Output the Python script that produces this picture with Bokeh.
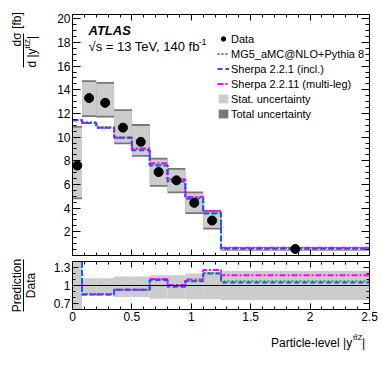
import math
from bokeh.plotting import figure
from bokeh.layouts import column, row
from bokeh.models import (Range1d, FixedTicker, LinearAxis, Label, Span,
                          Legend, LegendItem, CustomJSTickFormatter)
from bokeh.core.properties import value
from bokeh.embed import file_html
from bokeh.resources import INLINE

# ---------------- data ----------------
edges = [0.0, 0.08, 0.2, 0.35, 0.5, 0.65, 0.8, 0.95, 1.1, 1.25, 2.5]
data = [7.6, 13.3, 12.9, 10.8, 9.6, 7.05, 6.35, 4.45, 2.95, 0.55]
stat_lo = [4.9, 11.85, 11.8, 9.55, 8.5, 5.95, 5.4, 3.65, 2.35, 0.45]
stat_hi = [10.8, 14.65, 14.5, 12.2, 10.95, 8.1, 7.25, 5.25, 3.7, 0.66]
tot_lo = [4.75, 11.7, 11.65, 9.4, 8.35, 5.8, 5.25, 3.5, 2.2, 0.4]
tot_hi = [10.95, 14.8, 14.65, 12.35, 11.1, 8.25, 7.4, 5.4, 3.85, 0.71]
mg5 = [11.45, 11.25, 10.85, 10.0, 8.95, 7.65, 6.3, 4.85, 3.6, 0.6]
sh221 = [11.4, 11.2, 10.8, 9.95, 8.9, 7.6, 6.25, 4.8, 3.55, 0.58]
sh2211 = [11.45, 11.2, 10.8, 9.95, 9.05, 7.8, 6.45, 4.95, 3.75, 0.65]

r_mg5 = [1.5, 0.86, 0.86, 0.93, 0.93, 1.10, 0.99, 1.08, 1.21, 1.07]
r_sh221 = [1.5, 0.85, 0.85, 0.93, 0.93, 1.09, 0.98, 1.07, 1.20, 1.05]
r_sh2211 = [1.5, 0.85, 0.85, 0.93, 0.93, 1.11, 1.01, 1.10, 1.26, 1.17]
r_band_lo = [0.5, 0.85, 0.85, 0.81, 0.81, 0.78, 0.78, 0.77, 0.77, 0.76]
r_band_hi = [1.5, 1.12, 1.12, 1.15, 1.15, 1.17, 1.17, 1.20, 1.22, 1.24]

main_yticks = [2, 4, 6, 8, 10, 12, 14, 16, 18, 20]
ratio_yticks = [0.7, 1.0, 1.3]
xticks = [0, 0.5, 1, 1.5, 2, 2.5]

FONT = "Liberation Sans"
C_MG5, C_S221, C_S2211 = "#33aa33", "#2255ee", "#ff00ff"
C_STAT, C_TOT = "#cccccc", "#777777"

lefts = edges[:-1]
rights = edges[1:]
centers = [(a + b) / 2 for a, b in zip(lefts, rights)]


def stepy(v):
    return list(v) + [v[-1]]


fmt = CustomJSTickFormatter(code="return String(Math.round(tick*10)/10)")
blank = CustomJSTickFormatter(code="return ''")


def style_axis(ax, ticker, major_in, minor_in, labels):
    ax.ticker = ticker
    ax.major_tick_in = major_in
    ax.major_tick_out = 0
    ax.minor_tick_in = minor_in
    ax.minor_tick_out = 0
    ax.axis_line_color = "black"
    ax.major_tick_line_color = "black"
    ax.minor_tick_line_color = "black"
    ax.axis_label = None
    if labels:
        ax.major_label_text_font = FONT
        ax.major_label_text_font_size = "12px"
        ax.major_label_text_color = "black"
        ax.major_label_standoff = 2
        ax.formatter = fmt
    else:
        ax.formatter = blank
        ax.major_label_text_font_size = "0px"
        ax.major_label_standoff = 0


def xtick():
    return FixedTicker(ticks=xticks, minor_ticks=[i * 0.1 for i in range(26)])


def setup(p, yt_main, yt_minor, ymaj, ymin, xlabels):
    p.grid.visible = False
    p.outline_line_color = "black"
    p.outline_line_width = 1
    p.background_fill_color = "white"
    p.border_fill_color = "white"
    style_axis(p.xaxis[0], xtick(), 6, 3, xlabels)
    style_axis(p.yaxis[0], FixedTicker(ticks=yt_main, minor_ticks=yt_minor), ymaj, ymin, True)
    top = LinearAxis()
    style_axis(top, xtick(), 6, 3, False)
    p.add_layout(top, "above")
    right = LinearAxis()
    style_axis(right, FixedTicker(ticks=yt_main, minor_ticks=yt_minor), ymaj, ymin, False)
    p.add_layout(right, "right")


def blank_fig(w, h):
    f = figure(width=w, height=h, x_range=Range1d(0, w), y_range=Range1d(0, h),
               output_backend="svg", toolbar_location=None, min_border=0,
               x_axis_type=None, y_axis_type=None)
    f.grid.visible = False
    f.outline_line_color = None
    f.background_fill_color = "white"
    f.border_fill_color = "white"
    return f


# pixel -> data helpers for text placement inside the main frame
def mx(px):
    return (px - 72) / 118.8


def my(py):
    return (254 - py) * 20.36 / 240


# ---------------- main panel ----------------
p1 = figure(width=342, height=258, x_range=Range1d(0, 2.5), y_range=Range1d(0, 20.36),
            output_backend="svg", toolbar_location=None,
            min_border_left=32, min_border_right=13, min_border_top=14, min_border_bottom=3)
setup(p1, main_yticks, [i * 0.5 for i in range(41)], 8, 4, False)

r_tot = p1.quad(left=lefts, right=rights, bottom=tot_lo, top=tot_hi, fill_color=C_TOT, line_color=None)
r_stat = p1.quad(left=lefts, right=rights, bottom=stat_lo, top=stat_hi, fill_color=C_STAT, line_color=None)
r_m = p1.step(x=edges, y=stepy(mg5), mode="after", line_color=C_MG5, line_width=2, line_dash="2 2")
r_s2 = p1.step(x=edges, y=stepy(sh2211), mode="after", line_color=C_S2211, line_width=2, line_dash="6 2 2 2")
r_s1 = p1.step(x=edges, y=stepy(sh221), mode="after", line_color=C_S221, line_width=2, line_dash="5 3")
r_d = p1.scatter(x=centers, y=data, size=9, color="black")

legend = Legend(items=[
    LegendItem(label="Data", renderers=[r_d]),
    LegendItem(label="MG5_aMC@NLO+Pythia 8", renderers=[r_m]),
    LegendItem(label="Sherpa 2.2.1 (incl.)", renderers=[r_s1]),
    LegendItem(label="Sherpa 2.2.11 (multi-leg)", renderers=[r_s2]),
    LegendItem(label="Stat. uncertainty", renderers=[r_stat]),
    LegendItem(label="Total uncertainty", renderers=[r_tot]),
], location=(145, 134), padding=0, margin=0, spacing=0, label_standoff=2,
    glyph_width=12, glyph_height=11, label_height=15,
    label_text_font=FONT, label_text_font_size="11px", label_text_color="black",
    background_fill_alpha=0, border_line_alpha=0)
p1.add_layout(legend)

p1.add_layout(Label(x=mx(88), y=my(30), text="ATLAS", text_font=FONT, text_font_size="13px",
                    text_font_style="bold italic", text_baseline="middle", text_color="black"))
p1.add_layout(Label(x=mx(88), y=my(46), text="√s = 13 TeV, 140 fb", text_font=FONT,
                    text_font_size="13px", text_baseline="middle", text_color="black"))
p1.add_layout(Label(x=mx(198), y=my(41), text="-1", text_font=FONT,
                    text_font_size="9px", text_baseline="middle", text_color="black"))

# ---------------- ratio panel ----------------
p2 = figure(width=342, height=68, x_range=Range1d(0, 2.5), y_range=Range1d(0.6, 1.4),
            output_backend="svg", toolbar_location=None,
            min_border_left=32, min_border_right=13, min_border_top=3, min_border_bottom=17)
setup(p2, ratio_yticks, [round(0.6 + 0.1 * i, 2) for i in range(9)], 6, 3, True)

p2.quad(left=lefts, right=rights, bottom=r_band_lo, top=r_band_hi, fill_color=C_STAT, line_color=None)
p2.add_layout(Span(location=1.0, dimension="width", line_color="black", line_width=1))
p2.step(x=edges, y=stepy(r_mg5), mode="after", line_color=C_MG5, line_width=2, line_dash="2 2")
p2.step(x=edges, y=stepy(r_sh2211), mode="after", line_color=C_S2211, line_width=2, line_dash="6 2 2 2")
p2.step(x=edges, y=stepy(r_sh221), mode="after", line_color=C_S221, line_width=2, line_dash="5 3")

# ---------------- title strips ----------------
H = 367
L = blank_fig(40, H)
ROT = math.pi / 2
F12 = value("12px")
L.text(x=[16, 16], y=[H - 20, H - 39], text=["[fb]", "dσ"], angle=ROT, text_font=value(FONT),
       text_font_size=F12, text_align="center", text_baseline="middle", text_color="black")
L.text(x=[31, 31], y=[H - 67, H - 38.5], text=["d |y", "|"], angle=ROT, text_font=value(FONT),
       text_font_size=F12, text_align="left", text_baseline="middle", text_color="black")
L.text(x=[27], y=[H - 48], text=["tt\u0304Z"], angle=ROT, text_font=value(FONT),
       text_font_size=value("8px"), text_align="left", text_baseline="middle", text_color="black")
L.text(x=[16, 30], y=[H - 285, H - 285], text=["Prediction", "Data"], angle=ROT, text_font=value(FONT),
       text_font_size=F12, text_align="center", text_baseline="middle", text_color="black")
L.segment(x0=[23, 23], y0=[H - 33, H - 259], x1=[23, 23], y1=[H - 67, H - 311],
          line_color="black", line_width=1)

BH = 41
B = blank_fig(342, BH)
B.text(x=[322], y=[BH - 16], text=["Particle-level |y"], text_font=value(FONT), text_font_size=F12,
       text_align="right", text_baseline="middle", text_color="black")
B.text(x=[323], y=[BH - 11], text=["tt\u0304Z"], text_font=value(FONT), text_font_size=value("8px"),
       text_align="left", text_baseline="middle", text_color="black")
B.text(x=[333.5], y=[BH - 16], text=["|"], text_font=value(FONT), text_font_size=F12,
       text_align="left", text_baseline="middle", text_color="black")

layout = row(L, column(p1, p2, B, spacing=0), spacing=0)
open("out.html", "w").write(file_html(layout, INLINE))
